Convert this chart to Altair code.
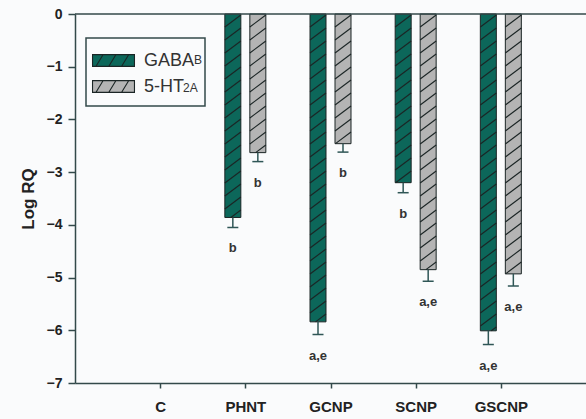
import json
import math

import altair as alt
import pandas as pd

# Expression levels (log relative quantity) per treatment group
categories = ["C", "PHNT", "GCNP", "SCNP", "GSCNP"]
series = ["GABA_B", "5-HT_2A"]
gaba_b = [0.0, -3.86, -5.84, -3.20, -6.01]
gaba_b_err = [0.0, 0.19, 0.24, 0.19, 0.26]
gaba_b_sig = ["", "b", "a,e", "b", "a,e"]
ht2a = [0.0, -2.63, -2.46, -4.85, -4.93]
ht2a_err = [0.0, 0.17, 0.16, 0.22, 0.23]
ht2a_sig = ["", "b", "b", "a,e", "a,e"]

# Layout
PLOT_W, PLOT_H = 511, 369
X_DOMAIN, Y_DOMAIN = [0, 6], [-7, 0]
px_x = PLOT_W / (X_DOMAIN[1] - X_DOMAIN[0])
px_y = PLOT_H / (Y_DOMAIN[1] - Y_DOMAIN[0])
GROUP_OFFSET = 12.5 / px_x
HALF_BAR = 8.0 / px_x
HALF_CAP = 5.5 / px_x
HATCH_STEP = 13.0 / px_y
HATCH_RISE = 12.0 / px_y

GREEN, GRAY = "#0c675a", "#b4b4b4"
AXIS_C = "#33494a"
ERR_C = "#2f5656"
INK = "#1b2525"
BG = "#fafbfc"
FONT = "Liberation Sans"

rows, hatch = [], []
for s_idx, (name, vals, errs, sigs) in enumerate(
    [(series[0], gaba_b, gaba_b_err, gaba_b_sig), (series[1], ht2a, ht2a_err, ht2a_sig)]
):
    off = -GROUP_OFFSET if s_idx == 0 else GROUP_OFFSET
    for i, (v, e, sg) in enumerate(zip(vals, errs, sigs)):
        if v >= 0:
            continue
        xc = i + 1 + off
        lo = v - e
        rows.append(dict(series=name, cat=categories[i], x=xc, x_lo=xc - HALF_BAR,
                         x_hi=xc + HALF_BAR, value=v, low=lo,
                         cap_lo=xc - HALF_CAP, cap_hi=xc + HALF_CAP, sig=sg))
        # diagonal hatching clipped to the bar [v, 0]
        k = math.floor((v - HATCH_RISE) / HATCH_STEP)
        while k * HATCH_STEP < 0:
            y0 = k * HATCH_STEP
            t0 = max(0.0, (v - y0) / HATCH_RISE)
            t1 = min(1.0, (0 - y0) / HATCH_RISE)
            if t1 > t0:
                w = 2 * HALF_BAR
                hatch.append(dict(hx1=xc - HALF_BAR + t0 * w, hx2=xc - HALF_BAR + t1 * w,
                                  hy1=y0 + t0 * HATCH_RISE, hy2=y0 + t1 * HATCH_RISE))
            k += 1

bars_df = pd.DataFrame(rows)
hatch_df = pd.DataFrame(hatch)

x_scale = alt.Scale(domain=X_DOMAIN, nice=False, zero=False)
y_scale = alt.Scale(domain=Y_DOMAIN, nice=False, zero=False)

x_axis = alt.Axis(
    values=[1, 2, 3, 4, 5],
    labelExpr=f"{json.dumps(categories)}[datum.value - 1]",
    title=None, grid=False, tickSize=5, labelPadding=11,
    labelFontSize=15, labelFontWeight="bold", labelFont=FONT, labelColor="#222",
    domainColor=AXIS_C, domainWidth=1.5, tickColor=AXIS_C, tickWidth=1.5,
)
y_axis = alt.Axis(
    values=list(range(-7, 1)), format="d", title="Log RQ", grid=False,
    tickSize=7, labelPadding=6, labelFontSize=14, labelFontWeight="bold",
    labelFont=FONT, labelColor="#222",
    titleFont=FONT, titleFontSize=17, titleFontWeight="bold", titleColor="#222",
    titleAngle=270, titleX=-47, titleY=PLOT_H / 2, titleBaseline="middle",
    domainColor=AXIS_C, domainWidth=1.5, tickColor=AXIS_C, tickWidth=1.5,
)

swatch = ("M-1.8,-0.5L1.8,-0.5L1.8,0.5L-1.8,0.5Z"
          "M-1.5,0.5L-0.9,-0.5M-0.4,0.5L0.2,-0.5M0.7,0.5L1.3,-0.5")

bars = alt.Chart(bars_df).mark_rect(stroke=INK, strokeWidth=1).encode(
    x=alt.X("x_lo:Q", scale=x_scale, axis=x_axis),
    x2="x_hi:Q",
    y=alt.Y("value:Q", scale=y_scale, axis=y_axis),
    y2=alt.datum(0),
    color=alt.Color(
        "series:N",
        scale=alt.Scale(domain=series, range=[GREEN, GRAY]),
        legend=alt.Legend(
            orient="none", legendX=11, legendY=24, title=None,
            symbolType=swatch, symbolSize=543, symbolStrokeColor=INK,
            symbolStrokeWidth=1.1, symbolOpacity=1, symbolOffset=5,
            labelExpr="split(datum.label, '_')[0] + '\u00a0\u00a0'",
            labelFont=FONT, labelFontSize=18, labelColor="#333",
            padding=10, rowPadding=4, labelOffset=18,
            strokeColor=AXIS_C, fillColor="rgba(0,0,0,0)",
        ),
    ),
)

hatch_lines = alt.Chart(hatch_df).mark_rule(color=INK, strokeWidth=1.1).encode(
    x="hx1:Q", x2="hx2:Q", y="hy1:Q", y2="hy2:Q"
)

err_stem = alt.Chart(bars_df).mark_rule(color=ERR_C, strokeWidth=1.5).encode(
    x="x:Q", y="value:Q", y2="low:Q"
)
err_cap = alt.Chart(bars_df).mark_rule(color=ERR_C, strokeWidth=1.5).encode(
    x="cap_lo:Q", x2="cap_hi:Q", y="low:Q"
)
sig_text = alt.Chart(bars_df).mark_text(
    dy=21, baseline="middle", fontSize=13, fontWeight="bold", font=FONT, color="#333"
).encode(x="x:Q", y="low:Q", text="sig:N")

top_line = alt.Chart(alt.Data(values=[{}])).mark_rule(
    color=AXIS_C, strokeWidth=1.5
).encode(y=alt.datum(0))

sub_b = alt.Chart(alt.Data(values=[{}])).mark_text(
    text="B", align="left", baseline="alphabetic", fontSize=12, font=FONT, color="#333"
).encode(x=alt.value(119), y=alt.value(50))
sub_2a = alt.Chart(alt.Data(values=[{}])).mark_text(
    text="2A", align="left", baseline="alphabetic", fontSize=12, font=FONT, color="#333"
).encode(x=alt.value(108), y=alt.value(78))

chart = (
    alt.layer(bars, hatch_lines, err_stem, err_cap, sig_text, top_line, sub_b, sub_2a)
    .properties(
        width=PLOT_W, height=PLOT_H,
        autosize=alt.AutoSizeParams(type="none"),
        padding={"left": 75, "top": 14, "right": 0, "bottom": 36},
        background=BG,
    )
    .configure_view(stroke=None)
    .configure_legend(strokeWidth=1.5)
)

chart.save("out.html", embed_options={"renderer": "svg", "actions": False})
